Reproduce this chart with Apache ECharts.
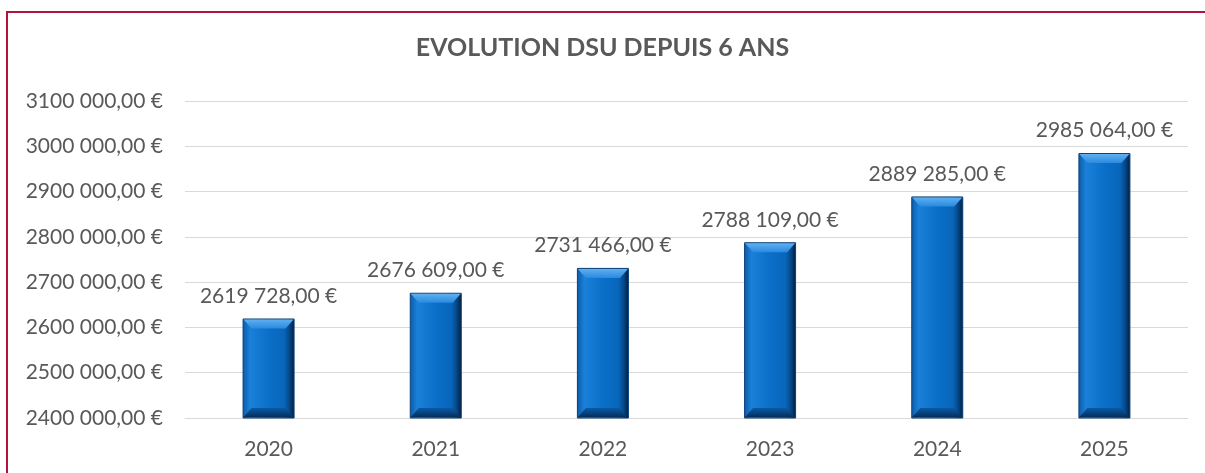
<!DOCTYPE html>
<html>
<head>
<meta charset="utf-8">
<script src="https://cdn.jsdelivr.net/npm/echarts@6/dist/echarts.min.js"></script>
<style>
  html, body { margin: 0; padding: 0; background: #fff; }
  #chart { width: 1205px; height: 473px; }
  #frame {
    position: absolute; left: 6px; top: 11px; right: -10px; bottom: -10px;
    border-left: 2px solid #b3123f; border-top: 2px solid #b3123f;
    pointer-events: none;
  }
</style>
</head>
<body>
<div id="chart"></div>
<div id="frame"></div>
<script>
const years = ['2020', '2021', '2022', '2023', '2024', '2025'];
const dsu = [2619728, 2676609, 2731466, 2788109, 2889285, 2985064];
const yMin = 2400000;
const yMax = 3100000;
const yStep = 100000;

// "2619 728,00 €" style, as in the sheet
function euro(v) {
  const k = Math.floor(v / 1000);
  const r = String(Math.round(v % 1000)).padStart(3, '0');
  return k + ' ' + r + ',00 €';
}

const chart = echarts.init(document.getElementById('chart'));
const txt = '#595959';
const font = 'Lato';
const barW = 52;
const bevel = 9;

// top / bottom bevel faces laid over each bar
function renderBevel(params, api) {
  const top = api.coord([api.value(0), api.value(1)]);
  const base = api.coord([api.value(0), yMin]);
  const l = top[0] - barW / 2, r = top[0] + barW / 2;
  const t = top[1] + 1, b = base[1] - 1;
  const d = Math.min(bevel, (b - t) / 2);
  return {
    type: 'group',
    children: [
      {
        type: 'polygon',
        shape: { points: [[l + 1, t], [r - 1, t], [r - d, t + d], [l + d, t + d]] },
        style: {
          fill: new echarts.graphic.LinearGradient(0, 0, 0, 1, [
            { offset: 0, color: '#5fb0f0' },
            { offset: 1, color: '#2a8ae0' }
          ])
        }
      },
      {
        type: 'polygon',
        shape: { points: [[l + 1, b], [r - 1, b], [r - d, b - d], [l + d, b - d]] },
        style: {
          fill: new echarts.graphic.LinearGradient(0, 0, 0, 1, [
            { offset: 0, color: '#0a5aa8' },
            { offset: 1, color: '#052f5c' }
          ])
        }
      }
    ]
  };
}

chart.setOption({
  backgroundColor: '#fff',
  animation: false,
  title: {
    text: 'EVOLUTION DSU DEPUIS 6 ANS',
    left: 'center',
    top: 30,
    textStyle: { fontFamily: font, fontSize: 25, fontWeight: 'bold', color: txt }
  },
  grid: { left: 185, right: 17, top: 101, bottom: 55 },
  xAxis: {
    type: 'category',
    data: years,
    axisLine: { lineStyle: { color: '#d9d9d9', width: 1 } },
    axisTick: { show: false },
    axisLabel: { color: txt, fontFamily: font, fontSize: 21, margin: 21 }
  },
  yAxis: {
    type: 'value',
    min: yMin,
    max: yMax,
    interval: yStep,
    axisLine: { show: false },
    axisTick: { show: false },
    splitLine: { lineStyle: { color: '#d9d9d9', width: 1 } },
    axisLabel: { color: txt, fontFamily: font, fontSize: 21, margin: 22, formatter: euro }
  },
  series: [
    {
      type: 'bar',
      data: dsu,
      barWidth: barW,
      itemStyle: {
        color: new echarts.graphic.LinearGradient(0, 0, 1, 0, [
          { offset: 0, color: '#0b5aa6' },
          { offset: 0.14, color: '#1a80d8' },
          { offset: 0.5, color: '#0a6fc8' },
          { offset: 0.8, color: '#0866ba' },
          { offset: 0.9, color: '#064788' },
          { offset: 1, color: '#021c38' }
        ]),
        borderColor: '#0a3f78',
        borderWidth: 1
      },
      label: {
        show: true,
        position: 'top',
        distance: 12,
        color: txt,
        fontFamily: font,
        fontSize: 21,
        formatter: p => euro(p.value)
      }
    },
    {
      type: 'custom',
      renderItem: renderBevel,
      data: dsu.map((v, i) => [i, v]),
      silent: true,
      z: 3
    }
  ]
});
</script>
</body>
</html>
